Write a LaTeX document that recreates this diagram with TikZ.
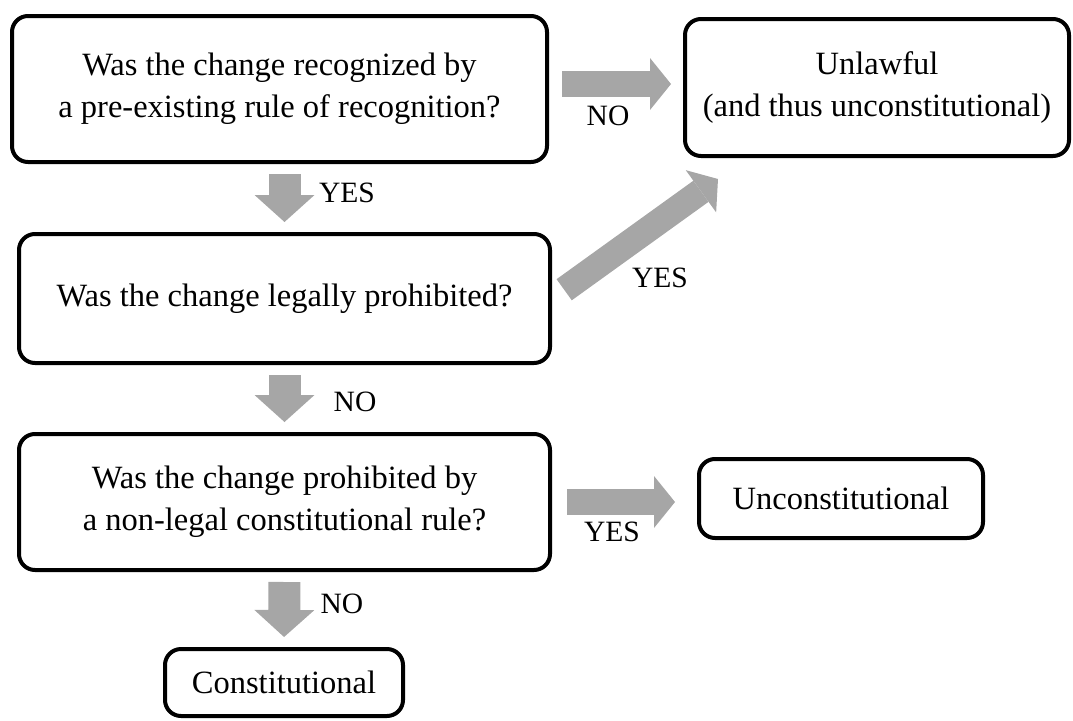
\documentclass[tikz,border=0pt]{standalone}
\usepackage{fontspec}
\setmainfont{Liberation Serif}
\usetikzlibrary{arrows.meta}

\definecolor{arrowgray}{RGB}{166,166,166}
\tikzset{
    qbox/.style={draw, line width=4pt, rounded corners=16pt, align=center,
        font=\fontsize{32.5}{42}\selectfont},
    sidearrow/.style={arrowgray, line width=26pt,
        -{Triangle[length=21pt,width=52pt,line width=0pt]}},
    downarrow/.style={arrowgray, line width=32pt,
        -{Triangle[length=27pt,width=60pt,line width=0pt]}},
    answer/.style={font=\fontsize{29.5}{34}\selectfont}
}

\begin{document}
\begin{tikzpicture}[x=1pt,y=-1pt]
    \useasboundingbox (0,0) rectangle (1073,720);
    % questions and outcomes
    \node[qbox, minimum width=535pt, minimum height=146pt] (recog) at (279.5,89)
        {Was the change recognized by\\a pre-existing rule of recognition?};
    \node[qbox, minimum width=384pt, minimum height=137pt] (unlawful) at (877,87.5)
        {Unlawful\\(and thus unconstitutional)};
    \node[qbox, minimum width=531pt, minimum height=129pt] (legal) at (284.5,298.5)
        {Was the change legally prohibited?};
    \node[qbox, minimum width=531pt, minimum height=136pt] (nonlegal) at (284.5,502)
        {Was the change prohibited by\\a non-legal constitutional rule?};
    \node[qbox, minimum width=284pt, minimum height=79pt] (uncon) at (841,498.5)
        {Unconstitutional};
    \node[qbox, minimum width=238pt, minimum height=67pt] (const) at (284,682.5)
        {Constitutional};
    % arrows
    \draw[sidearrow, shorten <=13pt, shorten >=12pt] ([yshift=5pt]recog.east) -- ([yshift=5pt]recog.east -| unlawful.west);
    \draw[downarrow, shorten <=10pt, shorten >=10pt] (legal.north |- recog.south) -- (legal.north);
    \draw[sidearrow, shorten <=15pt] (legal.east) -- ([xshift=35pt,yshift=-21pt]unlawful.south west);
    \draw[downarrow, shorten <=10pt, shorten >=10pt] (legal.south) -- (nonlegal.north);
    \draw[sidearrow, shorten <=15pt, shorten >=22pt] (nonlegal.east) -- (nonlegal.east -| uncon.west);
    \draw[downarrow, shorten <=10pt, shorten >=10pt] (nonlegal.south) -- (const.north);
    % answers
    \node[answer] (noA) at (608,116) {NO};
    \node[answer] (yesA) at (347,193) {YES};
    \node[answer] (yesB) at (660,278) {YES};
    \node[answer] (noB) at (355,402) {NO};
    \node[answer] (yesC) at (612,532) {YES};
    \node[answer] (noC) at (342,604) {NO};
\end{tikzpicture}
\end{document}
